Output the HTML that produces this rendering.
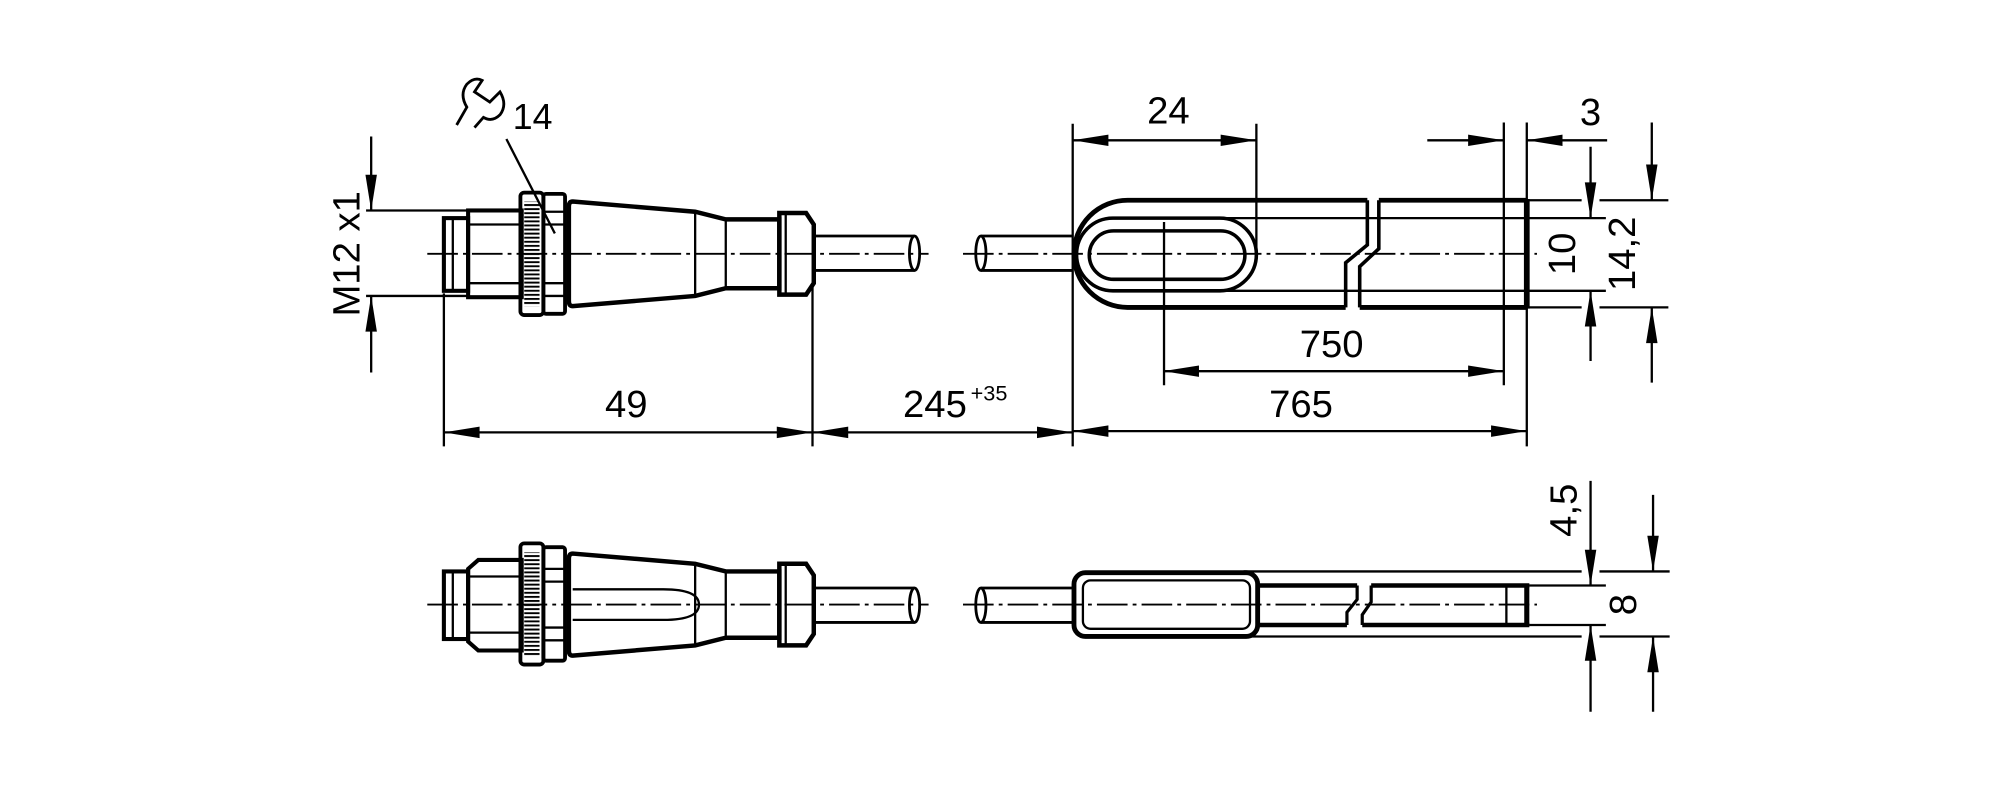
<!DOCTYPE html>
<html><head><meta charset="utf-8"><style>
html,body{margin:0;padding:0;background:#fff;width:2000px;height:787px;overflow:hidden}
svg{display:block}
text{font-family:"Liberation Sans",sans-serif;fill:#000}
</style></head><body>
<svg width="2000" height="787" viewBox="0 0 1568 617" xmlns="http://www.w3.org/2000/svg">
<defs>
<pattern id="kn" width="4" height="3.2" patternUnits="userSpaceOnUse"><rect width="4" height="1.5" fill="#000"/></pattern>
</defs>
<g fill="none" stroke="#000" stroke-width="1.8">
<path d="M335,199H728M755,199H1205M335,474H728M755,474H1205" stroke-width="1.5" stroke-dasharray="24 4 3 4"/>

<path d="M291,107V165M291,232V292M287,165H367M287,232H367"/>
<rect x="348" y="171" width="19" height="57" stroke-width="3.2"/>
<path d="M355,172V227"/>
<rect x="367" y="165" width="42" height="68" stroke-width="3.2"/>
<path d="M367,176H409M367,222H409"/>
<rect x="408" y="151" width="18" height="96" rx="3" stroke-width="3"/>
<rect x="411" y="158" width="12" height="82" fill="url(#kn)" stroke="none"/>
<rect x="426" y="152" width="17" height="94" rx="2" stroke-width="3"/>
<path d="M426,166H443M426,176H443M426,222H443M426,232H443"/>
<path d="M449,158L545,166L569,172L611,172L611,226L569,226L545,232L449,240Q446,240 446,236V162Q446,158 449,158Z" stroke-width="3.5"/>
<path d="M545,166V232M569,172V226"/>
<path d="M611,167L632,167L638,176V222L632,231L611,231Z" stroke-width="3.5"/>
<path d="M616,168V230"/>
<path d="M638,185H717M638,212H717M769,185H841M769,212H841" stroke-width="2.2"/>
<ellipse cx="717" cy="198.5" rx="4" ry="13.5" stroke-width="2.2"/>
<ellipse cx="769" cy="198.5" rx="4" ry="13.5" stroke-width="2.2"/>
<path d="M358,98L366,84Q360,74 366,66Q372,60 378,63L372,72L384,80L392,72Q398,82 392,90Q386,96 379,92L372,100" stroke-width="2.2"/>
<path d="M397,109L435,183"/>

<path d="M1072,157H884A42,42 0 0 0 884,241H1055" stroke-width="3.8"/>
<path d="M1081,157H1197M1066,241H1197" stroke-width="3.8"/>
<path d="M1197,156V242" stroke-width="4.5"/>
<path d="M1072,157V192L1055,206V241M1081,157V195L1066,209V241" stroke-width="2.8"/>
<rect x="844" y="171" width="141" height="57" rx="28.5" stroke-width="2.8"/>
<path d="M957,171H1259M957,228H1259"/>
<rect x="854" y="181" width="122" height="38" rx="19" stroke-width="2.8"/>
<path d="M912.6,174V302M985,97V199M841,97V350M1179,96V302M1197,96V350M348,230V350M637,225V350"/>
<path d="M841,110H985M1119,110H1179M1197,110H1260M1247,115V171M1247,228V283"/>
<path d="M1197,157H1240M1254,157H1308M1197,241H1240M1254,241H1308M1295,96V157M1295,241V300"/>
<path d="M912,291H1179M841,338H1197M348,339H841"/>

<rect x="348" y="448" width="19" height="53" stroke-width="3.2"/>
<path d="M355,449V500"/>
<path d="M367,446L375,439H409V510H375L367,503Z" stroke-width="3.2"/>
<path d="M367,452H409M367,496H409"/>
<rect x="408" y="426" width="18" height="95" rx="3" stroke-width="3"/>
<rect x="411" y="433" width="12" height="81" fill="url(#kn)" stroke="none"/>
<rect x="426" y="429" width="17" height="89" rx="2" stroke-width="3"/>
<path d="M426,446H443M426,456H443M426,492H443M426,502H443"/>
<path d="M449,434L545,442L569,448L611,448L611,500L569,500L545,506L449,514Q446,514 446,510V438Q446,434 449,434Z" stroke-width="3.5"/>
<path d="M545,442V506M569,448V500"/>
<path d="M449,462H520Q548,462 548,474Q548,486 520,486H449"/>
<path d="M611,442L632,442L638,451V497L632,506L611,506Z" stroke-width="3.5"/>
<path d="M616,443V505"/>
<path d="M638,461H717M638,488H717M769,461H841M769,488H841" stroke-width="2.2"/>
<ellipse cx="717" cy="474.5" rx="4" ry="13.5" stroke-width="2.2"/>
<ellipse cx="769" cy="474.5" rx="4" ry="13.5" stroke-width="2.2"/>

<rect x="842" y="449" width="144" height="50" rx="9" stroke-width="3.8"/>
<rect x="849" y="455" width="131" height="38" rx="6"/>
<path d="M975,448H1240M1254,448H1309M975,499H1240M1254,499H1309"/>
<path d="M986,459H1064M986,490H1056M1075,459H1199M1068,490H1199" stroke-width="3.5"/>
<path d="M1064,459V470L1056,480V490M1075,459V472L1068,482V490" stroke-width="2.5"/>
<path d="M1197,458V491" stroke-width="4"/>
<path d="M1181,459V490M1199,459H1259M1199,490H1259"/>
<path d="M1247,377V459M1247,490V558M1296,388V448M1296,499V558"/>
</g>

<g fill="#000">
<polygon points="291,165 286.5,137 295.5,137"/><polygon points="291,232 286.5,260 295.5,260"/>
<polygon points="841,110 869,105.5 869,114.5"/><polygon points="985,110 957,105.5 957,114.5"/>
<polygon points="1179,110 1151,105.5 1151,114.5"/><polygon points="1197,110 1225,105.5 1225,114.5"/>
<polygon points="1247,171 1242.5,143 1251.5,143"/><polygon points="1247,228 1242.5,256 1251.5,256"/>
<polygon points="1295,157 1290.5,129 1299.5,129"/><polygon points="1295,241 1290.5,269 1299.5,269"/>
<polygon points="912,291 940,286.5 940,295.5"/><polygon points="1179,291 1151,286.5 1151,295.5"/>
<polygon points="841,338 869,333.5 869,342.5"/><polygon points="1197,338 1169,333.5 1169,342.5"/>
<polygon points="348,339 376,334.5 376,343.5"/><polygon points="637,339 609,334.5 609,343.5"/>
<polygon points="637,339 665,334.5 665,343.5"/><polygon points="841,339 813,334.5 813,343.5"/>
<polygon points="1247,459 1242.5,431 1251.5,431"/><polygon points="1247,490 1242.5,518 1251.5,518"/>
<polygon points="1296,448 1291.5,420 1300.5,420"/><polygon points="1296,499 1291.5,527 1300.5,527"/>
</g>

<g font-size="30">
<text x="272" y="199" text-anchor="middle" dominant-baseline="central" transform="rotate(-90 272 199)">M12 x1</text>
<text x="402" y="101" font-size="28">14</text>
<text x="491" y="327" text-anchor="middle">49</text>
<text x="733" y="327" text-anchor="middle">245</text>
<text x="761" y="314" font-size="17">+35</text>
<text x="916" y="97" text-anchor="middle">24</text>
<text x="1247" y="98" text-anchor="middle">3</text>
<text x="1044" y="280" text-anchor="middle">750</text>
<text x="1020" y="327" text-anchor="middle">765</text>
<text x="1225" y="199" text-anchor="middle" dominant-baseline="central" transform="rotate(-90 1225 199)">10</text>
<text x="1272" y="199" text-anchor="middle" dominant-baseline="central" transform="rotate(-90 1272 199)">14,2</text>
<text x="1226" y="400" text-anchor="middle" dominant-baseline="central" transform="rotate(-90 1226 400)">4,5</text>
<text x="1273" y="474" text-anchor="middle" dominant-baseline="central" transform="rotate(-90 1273 474)">8</text>
</g>
</svg>
</body></html>
